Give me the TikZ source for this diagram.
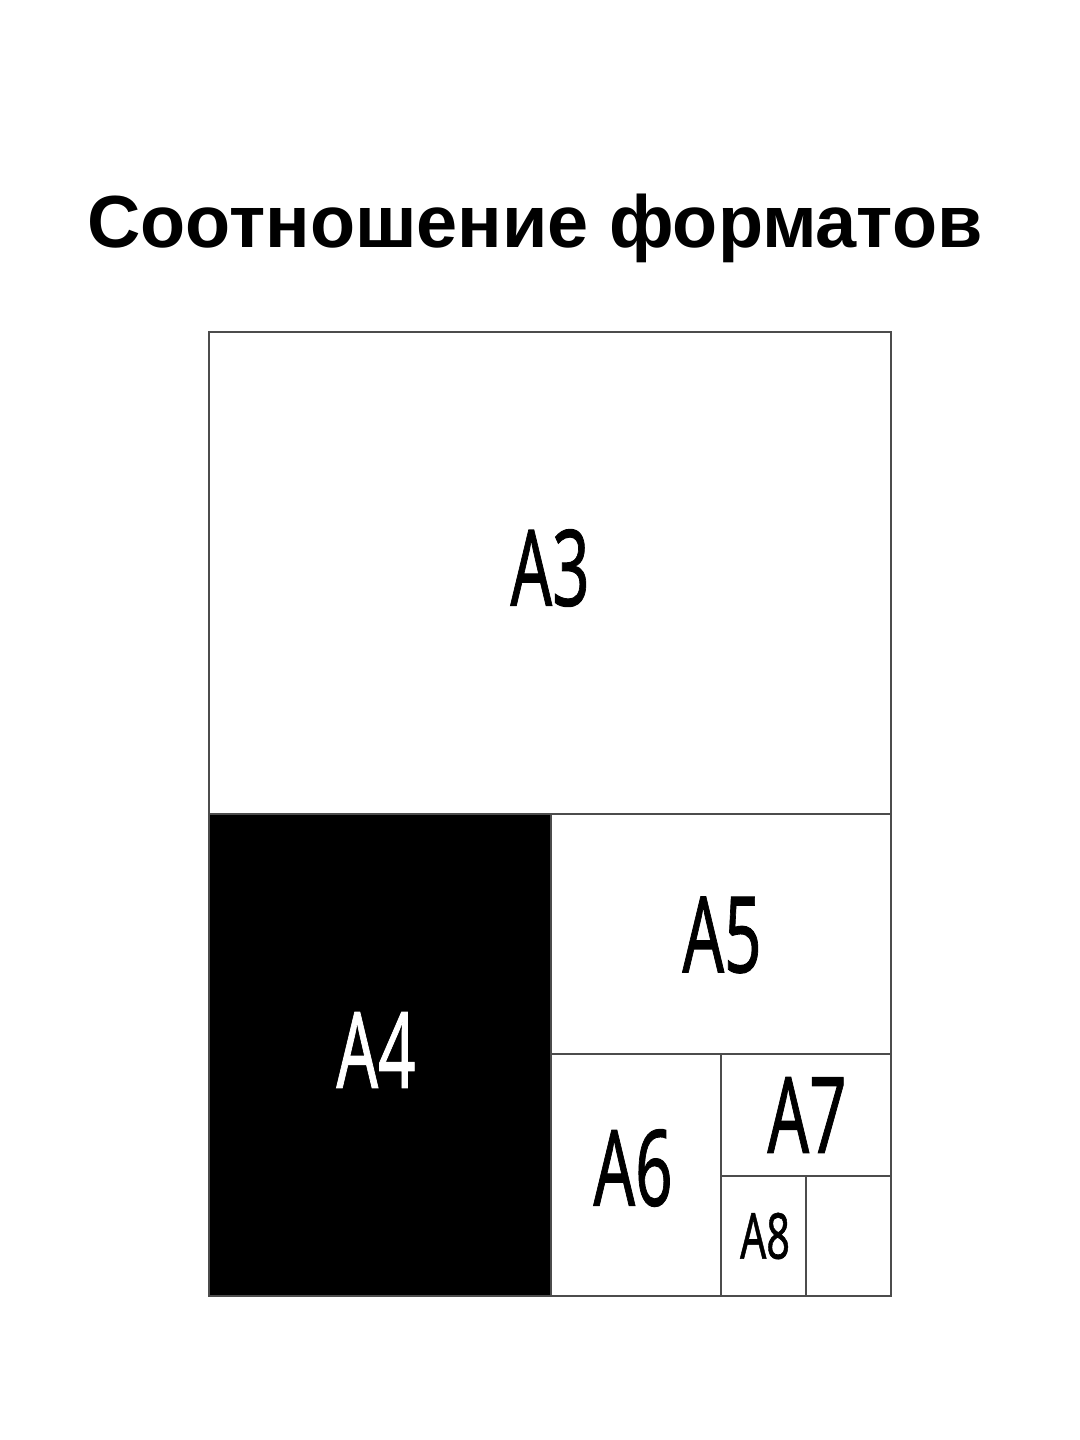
\documentclass[tikz,border=0pt]{standalone}
\usepackage{fontspec}
\setmainfont{Liberation Sans}
\newfontfamily\fmtfont[FakeBold=1.0]{Noto Sans}
\usetikzlibrary{positioning}
\tikzset{
  sheet/.style={draw=black!70, line width=0.6pt},
  fmt/.style={inner sep=0pt, xscale=0.62, font=\fmtfont\fontsize{30}{30}\selectfont},
  small/.style={inner sep=0pt, xscale=0.65, font=\fmtfont\fontsize{18}{18}\selectfont}
}
\begin{document}
\begin{tikzpicture}[x=0.01cm, y=-0.01cm]
    \useasboundingbox (0,0) rectangle (1080,1440);
    \fill[white] (0,0) rectangle (1080,1440);

    % Titre
    \node[anchor=base, inner sep=0pt, font=\bfseries\fontsize{21}{21}\selectfont] (title) at (535,248) {Соотношение форматов};

    % Feuilles
    \fill[black] (209,814) rectangle (551,1296);
    \draw[sheet] (209,332) rectangle (891,1296);
    \draw[sheet] (209,814) -- (891,814);
    \draw[sheet] (551,814) -- (551,1296);
    \draw[sheet] (551,1054) -- (891,1054);
    \draw[sheet] (721,1054) -- (721,1296);
    \draw[sheet] (721,1176) -- (891,1176);
    \draw[sheet] (806,1176) -- (806,1296);

    % Etiquettes
    \node[fmt] (a3) at (550,568) {A3};
    \node[fmt, text=white] (a4) at (376,1050) {A4};
    \node[fmt] (a5) at (722,935) {A5};
    \node[fmt] (a6) at (633,1168) {A6};
    \node[fmt] (a7) at (807,1115) {A7};
    \node[small] (a8) at (765,1236) {A8};
\end{tikzpicture}
\end{document}
